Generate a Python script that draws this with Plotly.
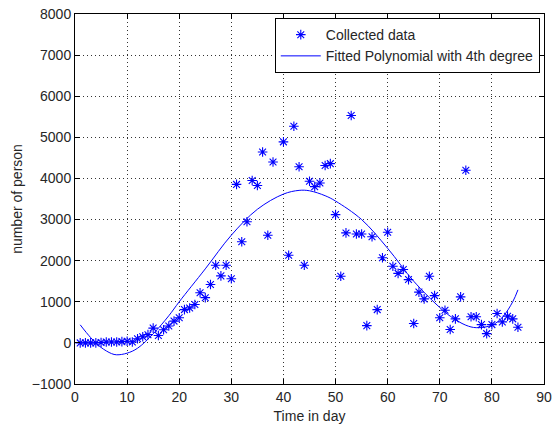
import plotly.graph_objects as go

days = [1,2,3,4,5,6,7,8,9,10,11,12,13,14,15,16,17,18,19,20,
        21,22,23,24,25,26,27,28,29,30,31,32,33,34,35,36,37,38,40,41,
        42,43,44,45,46,47,48,49,50,51,52,53,54,55,56,57,58,59,60,61,
        62,63,64,65,66,67,68,69,70,71,72,73,74,75,76,77,78,79,80,81,
        82,83,84,85]
persons = [0,0,0,0,10,20,20,20,30,40,20,100,150,200,360,180,320,410,530,610,
           810,850,935,1220,1100,1420,1890,1630,1890,1560,3855,2460,2945,3950,3830,4645,2620,4400,4890,2130,
           5270,4285,1890,3930,3800,3890,4315,4360,3120,1620,2675,5530,2650,2650,420,2580,810,2070,2690,1865,
           1690,1785,1540,470,1235,1070,1620,1150,610,795,325,585,1120,4200,635,635,445,225,445,715,
           510,650,585,380]

fit_days = [1,3,5,7,8,10,12,15,18,20,25,30,35,40,43,45,48,50,55,60,65,70,72,75,77,80,82,84,85]
fit_vals = [440,130,-110,-260,-290,-250,-130,220,660,1000,1800,2620,3250,3620,3710,3700,3580,3450,3000,2300,1500,860,650,430,370,430,620,1000,1290]

x_ticks = [0,10,20,30,40,50,60,70,80,90]
y_ticks = [-1000,0,1000,2000,3000,4000,5000,6000,7000,8000]

font_family = "Liberation Sans, Arial, sans-serif"
txt_color = "#262626"

fig = go.Figure()
fig.add_trace(go.Scatter(
    x=days, y=persons, mode="markers", name="Collected data",
    marker=dict(symbol="asterisk-open", size=8, color="#0000ff",
                line=dict(color="#0000ff", width=1.1)),
))
fig.add_trace(go.Scatter(
    x=fit_days, y=fit_vals, mode="lines", name="Fitted Polynomial with 4th degree",
    line=dict(color="#0000ff", width=1, shape="spline", smoothing=1.0),
))

axis_common = dict(
    showline=True, linecolor="black", linewidth=1, mirror="ticks",
    ticks="inside", ticklen=5, tickcolor="black",
    showgrid=True, gridcolor="#333333", griddash="1px,3px", gridwidth=1,
    zeroline=False, automargin=False,
    tickfont=dict(family=font_family, size=14, color=txt_color),
)

fig.update_layout(
    width=558, height=427,
    margin=dict(l=75, r=14, t=14, b=43),
    paper_bgcolor="white", plot_bgcolor="white",
    font=dict(family=font_family, size=14, color=txt_color),
    showlegend=True,
    legend=dict(
        x=0.991, y=0.989, xanchor="right", yanchor="top",
        bordercolor="black", borderwidth=1, bgcolor="white",
        font=dict(family=font_family, size=14, color=txt_color),
        itemwidth=40, tracegroupgap=0,
    ),
    xaxis=dict(range=[0, 90], tickvals=x_ticks,
               title=dict(text="Time in day", standoff=7,
                          font=dict(family=font_family, size=14, color=txt_color)),
               **axis_common),
    yaxis=dict(range=[-1000, 8000], tickvals=y_ticks,
               title=dict(text="number of person", standoff=5,
                          font=dict(family=font_family, size=14, color=txt_color)),
               **axis_common),
)

fig.write_html("out.html")
